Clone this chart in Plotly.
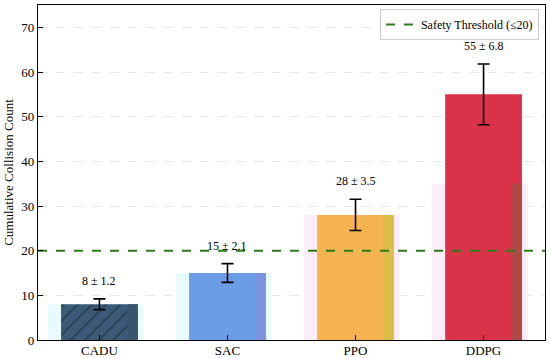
import plotly.graph_objects as go

# ---- data ----
methods = ["CADU", "SAC", "PPO", "DDPG"]
means = [8, 15, 28, 55]
stds = [1.2, 2.1, 3.5, 6.8]
shadow_heights = [8, 15, 28, 35]
threshold = 20
threshold_label = "Safety Threshold (≤20)"
y_ticks = [0, 10, 20, 30, 40, 50, 60, 70]

bar_colors = ["#3b5a78", "#6b9de6", "#f5b44f", "#da3349"]
glow_colors = ["#e8fbff", "#e8fbff", "#ffedfa", "#ffedfa"]
strip_colors = ["#38566f", "#8191df", "#d8c04b", "#a74e48"]
hatched = [True, False, False, False]
hatch_color = "#1d3a40"

FONT = "Liberation Serif, Times New Roman, serif"
xs = list(range(len(methods)))
x_range = [-0.48, len(methods) - 1 + 0.48]

fig = go.Figure()

# glow behind bars
fig.add_trace(go.Bar(
    x=xs, y=shadow_heights, width=0.75, offset=-0.405,
    marker=dict(color=glow_colors, line=dict(width=0)),
    showlegend=False, hoverinfo="skip"))

# main bars, one trace each so the hatch can be set per bar
for i in xs:
    marker = dict(color=bar_colors[i], line=dict(width=0))
    if hatched[i]:
        marker["pattern"] = dict(shape="/", fgcolor=hatch_color,
                                 bgcolor=bar_colors[i], fgopacity=1,
                                 fillmode="replace", size=10, solidity=0.12)
    fig.add_trace(go.Bar(
        x=[i], y=[means[i]], width=0.6, offset=-0.3,
        marker=marker, showlegend=False, hoverinfo="skip"))

# darker right-side strips
fig.add_trace(go.Bar(
    x=xs, y=shadow_heights, width=0.08, offset=0.22,
    marker=dict(color=strip_colors, line=dict(width=0)),
    opacity=0.85, showlegend=False, hoverinfo="skip"))

# error bars
fig.add_trace(go.Scatter(
    x=xs, y=means, mode="markers",
    marker=dict(size=0.1, color="rgba(0,0,0,0)"),
    error_y=dict(type="data", array=stds, visible=True,
                 color="black", thickness=1.6, width=6),
    showlegend=False, hoverinfo="skip"))

# threshold line
fig.add_trace(go.Scatter(
    x=x_range, y=[threshold, threshold], mode="lines",
    line=dict(color="#2d7b18", width=2, dash="dash"),
    name=threshold_label, hoverinfo="skip"))

for x, m, s in zip(xs, means, stds):
    fig.add_annotation(x=x, y=m + s, text=f"{m} ± {s}", showarrow=False,
                       yshift=18, font=dict(family=FONT, size=12, color="black"))

fig.update_layout(
    width=550, height=358,
    margin=dict(l=38, r=5, t=5, b=18),
    paper_bgcolor="white", plot_bgcolor="white",
    barmode="overlay",
    font=dict(family=FONT, size=13, color="black"),
    legend=dict(x=0.988, y=0.988, xanchor="right", yanchor="top",
                bgcolor="white", bordercolor="#cccccc", borderwidth=1,
                font=dict(family=FONT, size=12), itemwidth=30),
    showlegend=True,
)
fig.update_xaxes(
    range=x_range, tickvals=xs, ticktext=methods, automargin=False,
    showline=True, linecolor="black", linewidth=1.2, mirror=True,
    ticks="inside", ticklen=5, tickcolor="black", showgrid=False,
    zeroline=False, tickfont=dict(family=FONT, size=13),
    ticklabelstandoff=-2)
fig.update_yaxes(
    range=[0, 75], tickvals=y_ticks, automargin=False,
    showline=True, linecolor="black", linewidth=1.2, mirror=True,
    ticks="inside", ticklen=5, tickcolor="black",
    showgrid=True, gridcolor="#e6e6e6", griddash="dash", gridwidth=1,
    zeroline=False, tickfont=dict(family=FONT, size=13),
    title=dict(text="Cumulative Collision Count", standoff=4,
               font=dict(family=FONT, size=13)))

fig.write_html("out.html", config={"displayModeBar": False},
               post_script="document.body.style.margin='0';document.body.style.overflow='hidden';")
